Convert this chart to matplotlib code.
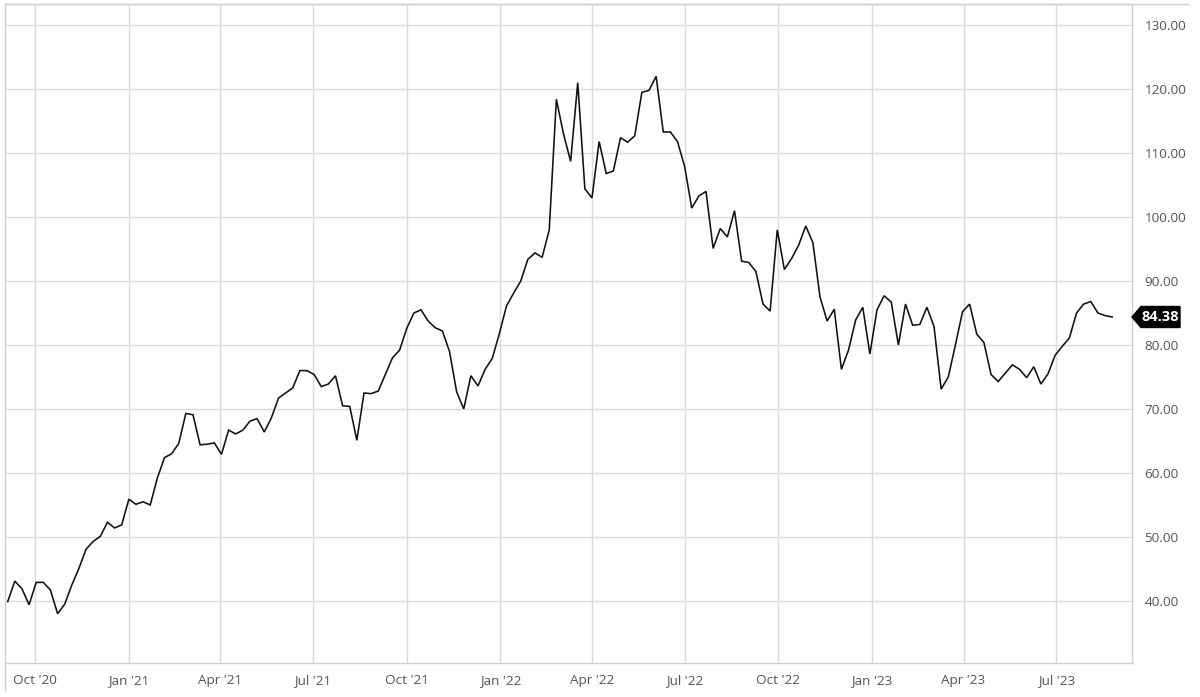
import matplotlib
matplotlib.use("Agg")
import matplotlib.pyplot as plt
import matplotlib.dates as mdates
from matplotlib.patches import Polygon
from matplotlib.lines import Line2D
import pandas as pd
import numpy as np

plt.rcParams['font.family'] = ['Open Sans', 'DejaVu Sans']

# weekly closes, first week ending 2020-09-04
start_date = "2020-09-04"
prices = [
    39.9, 43.1, 41.9, 39.4, 42.9, 42.9, 41.7, 38.0, 39.5, 42.5,
    45.1, 48.1, 49.3, 50.1, 52.3, 51.4, 51.9, 55.9, 55.1, 55.5,
    55.0, 59.2, 62.4, 63.0, 64.6, 69.3, 69.1, 64.4, 64.5, 64.7,
    62.9, 66.7, 66.1, 66.7, 68.1, 68.5, 66.4, 68.6, 71.7, 72.5,
    73.3, 76.0, 76.0, 75.4, 73.5, 73.9, 75.2, 70.5, 70.4, 65.1,
    72.5, 72.4, 72.8, 75.4, 78.0, 79.2, 82.6, 85.0, 85.5, 83.75,
    82.7, 82.2, 79.0, 72.7, 70.0, 75.2, 73.6, 76.2, 77.9, 81.8,
    86.1, 88.1, 90.0, 93.4, 94.4, 93.7, 98.0, 118.4, 113.0, 108.7,
    121.0, 104.4, 103.0, 111.8, 106.8, 107.2, 112.4, 111.7, 112.7, 119.5,
    119.8, 122.0, 113.3, 113.3, 111.8, 107.9, 101.4, 103.3, 104.0, 95.1,
    98.2, 96.9, 101.0, 93.1, 92.9, 91.5, 86.4, 85.3, 98.0, 91.8,
    93.5, 95.6, 98.6, 96.0, 87.5, 83.75, 85.6, 76.2, 79.2, 83.9,
    85.9, 78.6, 85.5, 87.7, 86.7, 80.0, 86.4, 83.1, 83.2, 85.9,
    82.9, 73.1, 75.0, 80.0, 85.2, 86.4, 81.7, 80.4, 75.4, 74.3,
    75.6, 76.9, 76.2, 74.9, 76.6, 73.9, 75.5, 78.4, 79.8, 81.1,
    85.0, 86.4, 86.8, 85.0, 84.6, 84.38,
]
dates = pd.date_range(start_date, periods=len(prices), freq="7D")

y_ticks = [40, 50, 60, 70, 80, 90, 100, 110, 120, 130]
x_tick_dates = ["2020-10-01", "2021-01-01", "2021-04-01", "2021-07-01",
                "2021-10-01", "2022-01-01", "2022-04-01", "2022-07-01",
                "2022-10-01", "2023-01-01", "2023-04-01", "2023-07-01"]
x_tick_labels = ["Oct '20", "Jan '21", "Apr '21", "Jul '21", "Oct '21", "Jan '22",
                 "Apr '22", "Jul '22", "Oct '22", "Jan '23", "Apr '23", "Jul '23"]
last_label = "84.38"

W, H = 1200, 697
fig = plt.figure(figsize=(W / 100, H / 100), dpi=100)
left_px, right_px, top_px, bot_px = 5, 1132, 4, 663
ax = fig.add_axes([left_px / W, (H - bot_px) / H,
                   (right_px - left_px) / W, (bot_px - top_px) / H])

ax.plot(dates, prices, color="#111111", linewidth=1.15, solid_joinstyle="miter")

ax.set_ylim(30.3, 133.3)
ax.set_xlim(pd.Timestamp("2020-09-01 08:00"), pd.Timestamp("2023-09-13 12:00"))

ax.set_yticks(y_ticks)
ax.set_yticklabels([f"{v:.2f}" for v in y_ticks])
ax.yaxis.tick_right()
ax.set_xticks(pd.to_datetime(x_tick_dates))
ax.set_xticklabels(x_tick_labels)

ax.tick_params(axis="both", length=0, labelsize=9.7, colors="#555555")
ax.tick_params(axis="y", pad=9)
ax.tick_params(axis="x", pad=8)

ax.grid(True, color="#dadada", linewidth=1.0)
ax.set_axisbelow(True)
for s in ax.spines.values():
    s.set_color("#d0d0d0")
    s.set_linewidth(1.0)

# outer frame extensions
fig.add_artist(Line2D([left_px / W, 1188 / W], [(H - top_px) / H] * 2,
                      transform=fig.transFigure, color="#d0d0d0", linewidth=1.0))
fig.add_artist(Line2D([left_px / W] * 2, [(H - 690) / H, (H - bot_px) / H],
                      transform=fig.transFigure, color="#d0d0d0", linewidth=1.0))

# last price tag
_, ypix = ax.transData.transform((mdates.date2num(dates[-1]), prices[-1]))
tip_x = right_px
verts_px = [(tip_x, ypix), (tip_x + 9, ypix + 10.5), (1180, ypix + 10.5),
            (1180, ypix - 10.5), (tip_x + 9, ypix - 10.5)]
verts = [(x / W, y / H) for x, y in verts_px]
fig.add_artist(Polygon(verts, closed=True, transform=fig.transFigure,
                       facecolor="black", edgecolor="black", clip_on=False))
fig.text((tip_x + 9 + 1180) / 2 / W, ypix / H, last_label, color="white",
         fontsize=10.5, fontweight="bold", ha="center", va="center")

fig.savefig("out.png", dpi=100)
